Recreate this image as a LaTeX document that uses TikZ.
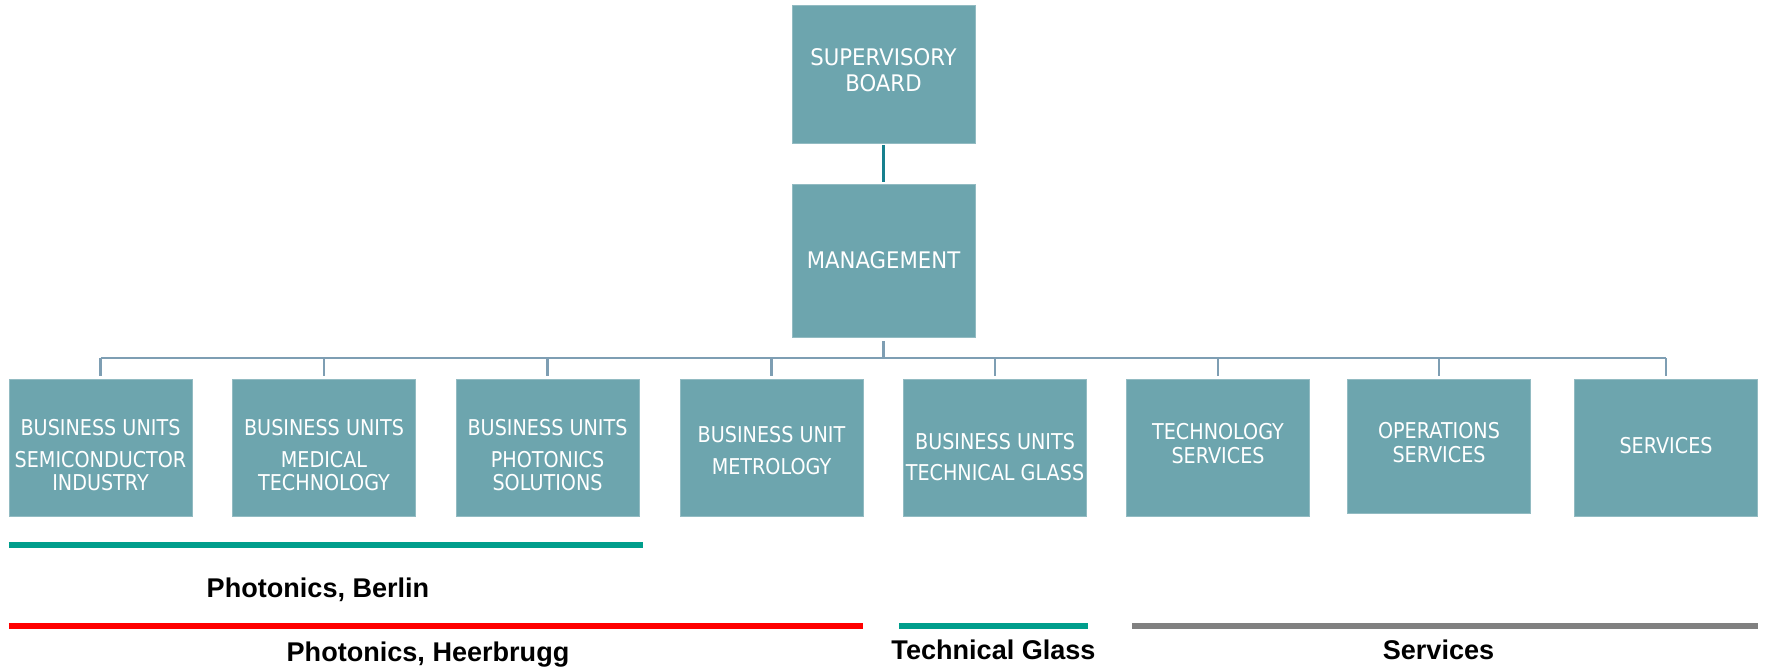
\documentclass[tikz,border=0pt]{standalone}
\usepackage{fontspec}
\usepackage{xcolor}
\usepackage{tikz}
\setmainfont{Liberation Sans}
\newfontfamily\topfont{DejaVu Sans}[FakeStretch=0.93]
\newfontfamily\unitfont{DejaVu Sans}[FakeStretch=0.88]
\usetikzlibrary{positioning,calc}

\definecolor{boxfill}{HTML}{6DA5AE}
\definecolor{boxedge}{HTML}{92BBC2}
\definecolor{linkblue}{HTML}{7E9EB3}
\definecolor{linkteal}{HTML}{17808E}
\definecolor{glassgreen}{HTML}{009E8C}
\definecolor{servgrey}{HTML}{808080}

\tikzset{
    orgbox/.style={rectangle, fill=boxfill, draw=boxedge, line width=0.25pt, inner sep=0pt,
        text=white, align=center, minimum width=1.83cm},
    topbox/.style={orgbox, font=\topfont\fontsize{6.5}{7.6}\selectfont},
    unitbox/.style={orgbox, minimum height=1.37cm, font=\unitfont\fontsize{6.2}{6.6}\selectfont},
    link/.style={draw=linkblue, line width=0.6pt},
    groupbar/.style={line width=0.06cm},
    grouplabel/.style={anchor=base, font=\bfseries\fontsize{7.7}{9}\selectfont}
}

\begin{document}
\begin{tikzpicture}
    \useasboundingbox (0,0) rectangle (17.70,-6.67);

    % Board and management
    \node[topbox, minimum height=1.38cm] (board) at (8.835,-0.74) {SUPERVISORY\\BOARD\rule[-2.3pt]{0pt}{2.3pt}};
    \node[topbox, minimum height=1.53cm] (mgmt) at (8.835,-2.605) {MANAGEMENT};
    \draw[draw=linkteal, line width=0.7pt, shorten <=0.02cm, shorten >=0.02cm] (board) -- (mgmt);

    % Business units and services
    \node[unitbox] (semi) at (1.005,-4.475) {\rule{0pt}{8.8pt}BUSINESS UNITS\\[2.4pt]SEMICONDUCTOR\\INDUSTRY};
    \node[unitbox] (med) at (3.24,-4.475) {\rule{0pt}{8.8pt}BUSINESS UNITS\\[2.4pt]MEDICAL\\TECHNOLOGY};
    \node[unitbox] (phot) at (5.475,-4.475) {\rule{0pt}{8.8pt}BUSINESS UNITS\\[2.4pt]PHOTONICS\\SOLUTIONS};
    \node[unitbox] (metro) at (7.715,-4.475) {\rule{0pt}{6.5pt}BUSINESS UNIT\\[2.6pt]METROLOGY};
    \node[unitbox] (glass) at (9.95,-4.475) {\rule{0pt}{10pt}BUSINESS UNITS\\[2.4pt]TECHNICAL GLASS};
    \node[unitbox] (tech) at (12.18,-4.475) {TECHNOLOGY\\SERVICES\rule[-2.3pt]{0pt}{2.3pt}};
    \node[unitbox, minimum height=1.34cm] (ops) at (14.39,-4.46) {OPERATIONS\\SERVICES\rule[-2pt]{0pt}{2pt}};
    \node[unitbox] (serv) at (16.66,-4.475) {SERVICES\rule[-1.4pt]{0pt}{1.4pt}};

    % Bus
    \coordinate (bus) at (8.835,-3.58);
    \draw[link, shorten <=0.04cm] (mgmt.south) -- (bus);
    \draw[link] (semi.north |- bus) -- (serv.north |- bus);
    \foreach \u in {semi,med,phot,metro,glass,tech,ops,serv}
        \draw[link, shorten >=0.03cm] (\u.north |- bus) -- (\u.north);

    % Sites
    \draw[groupbar, glassgreen] (0.09,-5.45) -- (6.43,-5.45);
    \node[grouplabel] (berlin) at (3.18,-5.975) {Photonics, Berlin};
    \draw[groupbar, red] (0.09,-6.26) -- (8.63,-6.26);
    \draw[groupbar, glassgreen] (8.99,-6.26) -- (10.88,-6.26);
    \draw[groupbar, servgrey] (11.32,-6.26) -- (17.58,-6.26);
    \node[grouplabel] (heerbrugg) at (4.28,-6.61) {Photonics, Heerbrugg};
    \node[grouplabel] (techglass) at (9.935,-6.595) {Technical Glass};
    \node[grouplabel] (services) at (14.385,-6.595) {Services};
\end{tikzpicture}
\end{document}
